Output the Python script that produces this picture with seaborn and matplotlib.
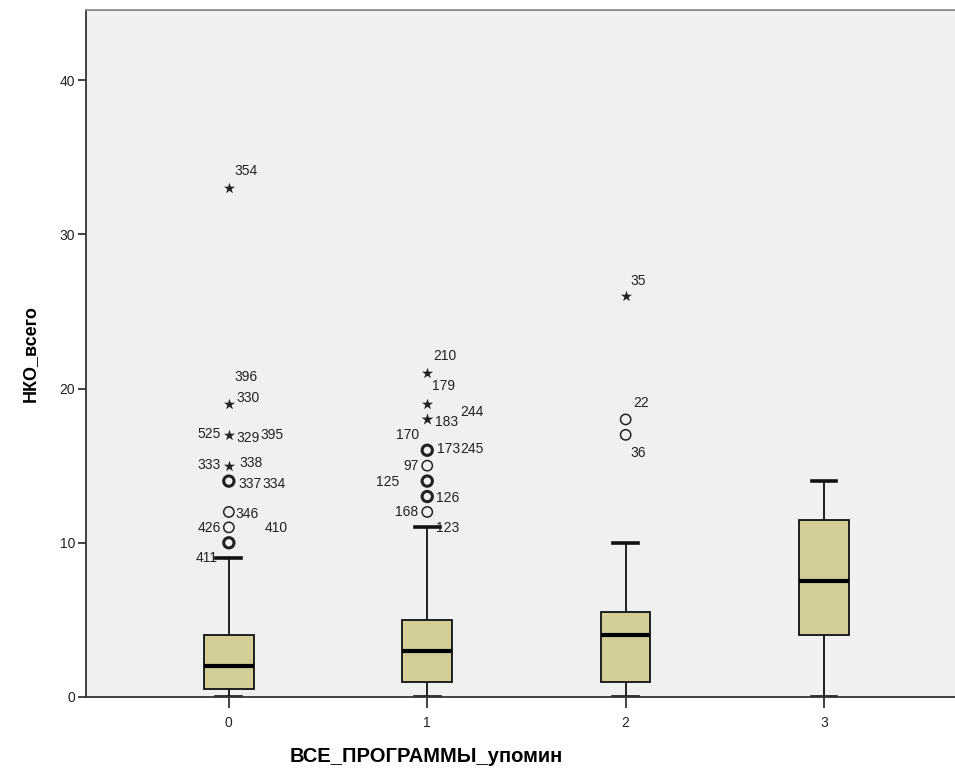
import matplotlib
matplotlib.use("Agg")
import matplotlib.pyplot as plt
import seaborn as sns
import pandas as pd
from collections import Counter

# box summary per group (lower whisker, Q1, median, Q3, upper whisker)
groups = [0, 1, 2, 3]
whisker_low = [0, 0, 0, 0]
q1 = [0.5, 1, 1, 4]
median = [2, 3, 4, 7.5]
q3 = [4, 5, 5.5, 11.5]
whisker_high = [9, 11, 10, 14]

# outliers (o) and extremes (*), repeated values are several cases
outliers = {
    0: [10, 10, 11, 12, 14, 14],
    1: [12, 13, 13, 14, 14, 15, 16, 16],
    2: [17, 18],
    3: [],
}
extremes = {
    0: [15, 17, 19, 33],
    1: [18, 18, 19, 21],
    2: [26],
    3: [],
}

# case labels: (group, value, case number)
case_labels = [
    (0, 33, "354"), (0, 19, "396"), (0, 19, "330"),
    (0, 17, "525"), (0, 17, "329"), (0, 17, "395"),
    (0, 15, "333"), (0, 15, "338"), (0, 14, "337"), (0, 14, "334"),
    (0, 12, "346"), (0, 11, "426"), (0, 11, "410"), (0, 10, "411"),
    (1, 21, "210"), (1, 19, "179"), (1, 18, "183"), (1, 18, "244"),
    (1, 16, "170"), (1, 16, "173"), (1, 16, "245"), (1, 15, "97"),
    (1, 14, "125"), (1, 13, "126"), (1, 12, "168"), (1, 11, "123"),
    (2, 26, "35"), (2, 18, "22"), (2, 17, "36"),
]
# label placement in pixels (right, down) from the marker
label_offsets = {
    "354": (17, -17), "396": (17, -27), "330": (19, -6),
    "525": (-20, -1), "329": (19, 3), "395": (43, 0),
    "333": (-20, -1), "338": (22, -3), "337": (21, 3), "334": (45, 3),
    "346": (18, 2), "426": (-20, 1), "410": (47, 1), "411": (-22, 15),
    "210": (18, -17), "179": (16, -18), "183": (19, 3), "244": (45, -7),
    "170": (-20, -15), "173": (21, -1), "245": (45, -1), "97": (-16, 0),
    "125": (-40, 1), "126": (20, 1), "168": (-21, 0), "123": (20, 1),
    "35": (13, -15), "22": (15, -16), "36": (13, 18),
}

rows = []
for g, lo, a, m, b, hi in zip(groups, whisker_low, q1, median, q3, whisker_high):
    for v in (lo, a, m, b, hi):
        rows.append({"group": g, "value": v})
df = pd.DataFrame(rows)

plt.rcParams["font.family"] = ["Liberation Sans", "DejaVu Sans"]

fig = plt.figure(figsize=(9.55, 7.69), dpi=100)
ax = fig.add_axes([86 / 955, 72 / 769, 869 / 955, 687 / 769])
ax.set_facecolor("#F0F0F0")

sns.boxplot(data=df, x="group", y="value", order=groups, whis=(0, 100),
            width=0.25, color="#D3CE98", saturation=1, linecolor="#111111",
            linewidth=1.3, fliersize=0, ax=ax,
            medianprops={"linewidth": 3, "color": "#000000"},
            capprops={"linewidth": 2.6})

for g in groups:
    for v, n in Counter(outliers[g]).items():
        ax.scatter([g], [v], s=55, marker="o", facecolors="none",
                   edgecolors="#222222", linewidths=2.2 if n > 1 else 1.1, zorder=5)
    for v, n in Counter(extremes[g]).items():
        ax.scatter([g], [v], s=80 if n > 1 else 70, marker="*",
                   color="#222222", linewidths=0, zorder=5)

for g, v, txt in case_labels:
    dx, dy = label_offsets[txt]
    ax.annotate(txt, xy=(g, v), xytext=(dx, -dy), textcoords="offset pixels",
                ha="center", va="center", fontsize=10, color="#222222")

ax.set_xlim(-0.72, 3.66)
ax.set_ylim(0, 44.55)
ax.set_yticks([0, 10, 20, 30, 40])

ax.spines["right"].set_visible(False)
ax.spines["left"].set_color("#333333")
ax.spines["bottom"].set_color("#333333")
ax.spines["top"].set_color("#8a8a8a")
for s in ["left", "bottom", "top"]:
    ax.spines[s].set_linewidth(1.3)
    ax.spines[s].set_zorder(10)

ax.tick_params(axis="y", length=6, width=1.3, color="#333333",
               labelsize=10, labelcolor="#222222", pad=2)
ax.tick_params(axis="x", length=8, width=1.3, color="#333333",
               labelsize=10, labelcolor="#222222", pad=6)

ax.set_xlabel("ВСЕ_ПРОГРАММЫ_упомин", fontsize=14.5, fontweight="bold")
ax.set_ylabel("НКО_всего", fontsize=13, fontweight="bold")
ax.xaxis.set_label_coords(0.391, -0.087)
ax.yaxis.set_label_coords(-0.064, 0.5)
ax.xaxis.label.set_va("center")
ax.yaxis.label.set_va("center")

fig.savefig("out.png", dpi=100)
